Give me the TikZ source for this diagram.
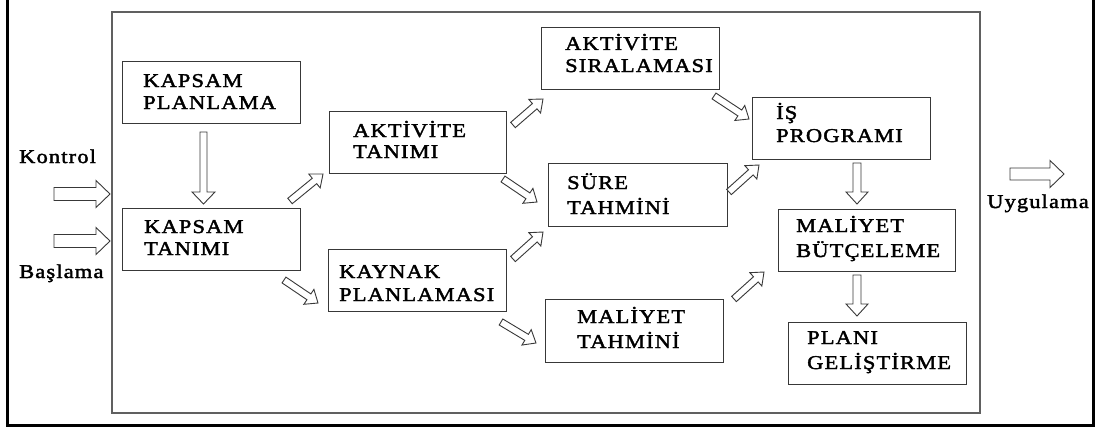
\documentclass[tikz,border=0pt]{standalone}
\usepackage{fontspec}
\setmainfont{Liberation Serif}[FakeStretch=1.15, LetterSpace=6, FakeBold=2]
\usetikzlibrary{calc}
\definecolor{framegray}{HTML}{606060}
\definecolor{boxgray}{HTML}{383838}
\newcommand\twolines[3]{\vtop{\baselineskip=#1\lineskiplimit=-100pt\hbox{#2}\hbox{#3}}}
\newcommand\hollowarrow[5]{%
  \coordinate (hb) at ($(#2)!#5!(#1)$);
  \draw[blockarrow] ($(#1)!#3!90:(#2)$) -- ($(hb)!#3!90:(#2)$) -- ($(hb)!#4!90:(#2)$) -- (#2)
    -- ($(hb)!#4!-90:(#2)$) -- ($(hb)!#3!-90:(#2)$) -- ($(#1)!#3!-90:(#2)$) -- cycle;}
\tikzset{
  box/.style={draw=boxgray, line width=1pt, rectangle, anchor=north west, inner sep=0pt},
  lbl/.style={anchor=base west, inner sep=0pt, text=black, font=\fontsize{19.5}{22.5}\selectfont},
  blockarrow/.style={draw=boxgray, line width=0.9pt, fill=white, line join=miter},
}
\begin{document}
\begin{tikzpicture}[x=1pt, y=-1pt]
\useasboundingbox (0,0) rectangle (1097,428);
% outer frame (top cut off)
\draw[line width=3pt, black] (7,0) -- (7,425) -- (1093,425) -- (1093,0);
% inner frame
\draw[framegray, line width=1.2pt] (112,12) rectangle (980,413);
% boxes
\node[box, minimum width=178pt, minimum height=62pt] (kp) at (122,61) {};
\node[box, minimum width=178pt, minimum height=62pt] (kt) at (122,208) {};
\node[box, minimum width=177pt, minimum height=62pt] (at) at (329,111) {};
\node[box, minimum width=178pt, minimum height=62pt] (ky) at (328,249) {};
\node[box, minimum width=178pt, minimum height=62pt] (as) at (541,27) {};
\node[box, minimum width=179pt, minimum height=63pt] (su) at (548,163) {};
\node[box, minimum width=178pt, minimum height=63pt] (mt) at (545,299) {};
\node[box, minimum width=178pt, minimum height=62pt] (is) at (752,97) {};
\node[box, minimum width=177pt, minimum height=62pt] (mb) at (778,209) {};
\node[box, minimum width=178pt, minimum height=62pt] (pg) at (788,322) {};
% box texts
\node[lbl] (kpt) at ($(kp.north west)+(21,26)$) {\twolines{22pt}{KAPSAM}{PLANLAMA}};
\node[lbl] (ktt) at ($(kt.north west)+(22,25)$) {\twolines{22pt}{KAPSAM}{TANIMI}};
\node[lbl] (att) at ($(at.north west)+(24,26)$) {\twolines{21pt}{AKTİVİTE}{TANIMI}};
\node[lbl] (kyt) at ($(ky.north west)+(11,29)$) {\twolines{23pt}{KAYNAK}{PLANLAMASI}};
\node[lbl] (ast) at ($(as.north west)+(24,23)$) {\twolines{22pt}{AKTİVİTE}{SIRALAMASI}};
\node[lbl] (sut) at ($(su.north west)+(19,26)$) {\twolines{25pt}{SÜRE}{TAHMİNİ}};
\node[lbl] (mtt) at ($(mt.north west)+(32,24)$) {\twolines{25pt}{MALİYET}{TAHMİNİ}};
\node[lbl] (ist) at ($(is.north west)+(24,22)$) {\twolines{23pt}{İŞ}{PROGRAMI}};
\node[lbl] (mbt) at ($(mb.north west)+(18,23)$) {\twolines{25pt}{MALİYET}{BÜTÇELEME}};
\node[lbl] (pgt) at ($(pg.north west)+(19,22)$) {\twolines{25pt}{PLANI}{GELİŞTİRME}};
% outside labels
\node[lbl] (kontrol) at (19,163) {Kontrol};
\node[lbl] (baslama) at (19,278) {Başlama};
\node[lbl] (uyg) at (987,208) {Uygulama};
% arrow end points
\coordinate (a1s) at (54,194);   \coordinate (a1e) at (110,194);
\coordinate (a2s) at (54,241);   \coordinate (a2e) at (110,241);
\coordinate (a3s) at (203.5,132);\coordinate (a3e) at (203.5,204);
\coordinate (a4s) at (290,201);  \coordinate (a4e) at (323,174);
\coordinate (a5s) at (284,280);  \coordinate (a5e) at (318,303);
\coordinate (a6s) at (513,125);  \coordinate (a6e) at (543,99);
\coordinate (a7s) at (503,179);  \coordinate (a7e) at (537,202);
\coordinate (a8s) at (513,259);  \coordinate (a8e) at (543,232);
\coordinate (a9s) at (501,322);  \coordinate (a9e) at (536,343);
\coordinate (a10s) at (714,96);  \coordinate (a10e) at (749,119);
\coordinate (a11s) at (729,192); \coordinate (a11e) at (759,165);
\coordinate (a12s) at (734,299); \coordinate (a12e) at (764,272);
\coordinate (a13s) at (857,163); \coordinate (a13e) at (857,204);
\coordinate (a14s) at (857,275); \coordinate (a14e) at (857,316);
\coordinate (a15s) at (1010,174);\coordinate (a15e) at (1064,174);
% arrows
\hollowarrow{a1s}{a1e}{6.5pt}{13.5pt}{14pt}
\hollowarrow{a2s}{a2e}{6.5pt}{13.5pt}{14pt}
\hollowarrow{a3s}{a3e}{3.5pt}{11.5pt}{12pt}
\hollowarrow{a4s}{a4e}{3.5pt}{9pt}{11pt}
\hollowarrow{a5s}{a5e}{3.5pt}{9pt}{11pt}
\hollowarrow{a6s}{a6e}{3.5pt}{9pt}{11pt}
\hollowarrow{a7s}{a7e}{3.5pt}{9pt}{11pt}
\hollowarrow{a8s}{a8e}{3.5pt}{9pt}{11pt}
\hollowarrow{a9s}{a9e}{3.5pt}{9pt}{11pt}
\hollowarrow{a10s}{a10e}{3.5pt}{9pt}{11pt}
\hollowarrow{a11s}{a11e}{3.5pt}{9pt}{11pt}
\hollowarrow{a12s}{a12e}{3.5pt}{9pt}{11pt}
\hollowarrow{a13s}{a13e}{4pt}{11pt}{12pt}
\hollowarrow{a14s}{a14e}{4pt}{11pt}{12pt}
\hollowarrow{a15s}{a15e}{6pt}{13.5pt}{14pt}
\end{tikzpicture}
\end{document}
